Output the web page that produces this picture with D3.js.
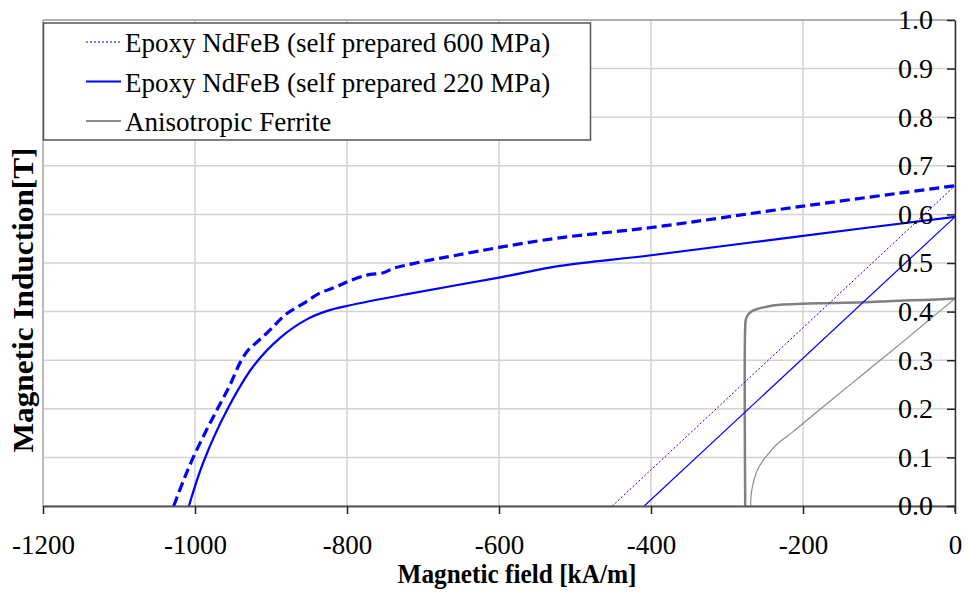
<!DOCTYPE html>
<html>
<head>
<meta charset="utf-8">
<script src="https://cdn.jsdelivr.net/npm/d3@7"></script>
<style>
  body { margin: 0; background: #fff; }
  svg { display: block; font-family: "Liberation Serif", "Times New Roman", serif; }
</style>
</head>
<body>
<div id="chart"></div>
<script>
// field H [kA/m] / induction [T]
var xTicks = [-1200, -1000, -800, -600, -400, -200, 0];
var yTicks = [0, 0.1, 0.2, 0.3, 0.4, 0.5, 0.6, 0.7, 0.8, 0.9, 1.0];

// 600 MPa knee curve (thick dashed)
var h600J = [-1028, -1015, -1002, -985, -969, -954, -941, -930, -923, -906, -879, -857, -836, -814, -800, -774, -752, -739, -721, -691, -656, -600, -524, -400, -200, 0];
var b600J = [0, 0.053, 0.101, 0.156, 0.204, 0.249, 0.294, 0.321, 0.331, 0.355, 0.396, 0.417, 0.438, 0.451, 0.461, 0.475, 0.480, 0.489, 0.496, 0.506, 0.516, 0.532, 0.551, 0.573, 0.617, 0.659];
// 600 MPa straight line (thin dotted)
var h600B = [-451, 0];
var b600B = [0, 0.659];

// 220 MPa knee curve (thick solid)
var h220J = [-1008, -989, -957, -923, -888, -853, -827, -799, -721, -600, -520, -400, -200, 0];
var b220J = [0, 0.090, 0.200, 0.288, 0.346, 0.384, 0.401, 0.412, 0.436, 0.470, 0.494, 0.516, 0.556, 0.595];
// 220 MPa straight line (thin solid)
var h220B = [-409, 0];
var b220B = [0, 0.595];

// anisotropic ferrite
var hFerJ = [-276, -276, -275, -271, -266, -248, -230, -200, -178, -120, -81, -40, 0];
var bFerJ = [0, 0.370, 0.385, 0.396, 0.402, 0.410, 0.414, 0.416, 0.417, 0.419, 0.422, 0.424, 0.427];
var hFerB = [-269, -268, -265, -260, -252, -243, -235, -213, -169, -125, -81, -37, 0];
var bFerB = [0, 0.026, 0.050, 0.074, 0.095, 0.112, 0.126, 0.153, 0.210, 0.266, 0.322, 0.379, 0.427];

var legendNames = ["Epoxy NdFeB (self prepared 600 MPa)", "Epoxy NdFeB (self prepared 220 MPa)", "Anisotropic Ferrite"];

var W = 968, H = 592;
var mL = 43, mR = 955, mT = 20, mB = 506;

var svg = d3.select("#chart").append("svg")
    .attr("width", W)
    .attr("height", H);

var x = d3.scaleLinear().domain([-1200, 0]).range([mL, mR]);
var y = d3.scaleLinear().domain([0, 1]).range([mB, mT]);

// grid
svg.append("g").selectAll("line").data(xTicks).enter().append("line")
    .attr("x1", function(d) { return x(d); })
    .attr("x2", function(d) { return x(d); })
    .attr("y1", mT).attr("y2", mB)
    .attr("stroke", "#d2d2d2").attr("stroke-width", 1.5);
svg.append("g").selectAll("line").data(yTicks).enter().append("line")
    .attr("x1", mL).attr("x2", mR)
    .attr("y1", function(d) { return y(d); })
    .attr("y2", function(d) { return y(d); })
    .attr("stroke", "#d2d2d2").attr("stroke-width", 1.5);

// plot border
svg.append("line").attr("x1", mL).attr("x2", mR).attr("y1", mT).attr("y2", mT)
    .attr("stroke", "#a0a0a0").attr("stroke-width", 1.5);
svg.append("line").attr("x1", mL).attr("x2", mL).attr("y1", mT).attr("y2", mB)
    .attr("stroke", "#b0b0b0").attr("stroke-width", 1.5);

function pts(hs, bs) {
    return hs.map(function(h, i) { return [h, bs[i]]; });
}

var curve = d3.line()
    .x(function(d) { return x(d[0]); })
    .y(function(d) { return y(d[1]); })
    .curve(d3.curveCatmullRom.alpha(0.5));
var straight = d3.line()
    .x(function(d) { return x(d[0]); })
    .y(function(d) { return y(d[1]); });

var series = [
    { d: pts(hFerB, bFerB), gen: curve, color: "#8c8c8c", w: 1.2, dash: null },
    { d: pts(hFerJ, bFerJ), gen: curve, color: "#808080", w: 2.5, dash: null },
    { d: pts(h600B, b600B), gen: straight, color: "#0000ff", w: 1, dash: "2,2" },
    { d: pts(h220B, b220B), gen: straight, color: "#0000ff", w: 1.2, dash: null },
    { d: pts(h600J, b600J), gen: curve, color: "#0000ff", w: 3.2, dash: "10,5" },
    { d: pts(h220J, b220J), gen: curve, color: "#0000ff", w: 2.2, dash: null }
];

svg.append("g").selectAll("path").data(series).enter().append("path")
    .attr("d", function(s) { return s.gen(s.d); })
    .attr("fill", "none")
    .attr("stroke", function(s) { return s.color; })
    .attr("stroke-width", function(s) { return s.w; })
    .attr("stroke-dasharray", function(s) { return s.dash; });

// x axis
var xAxis = svg.append("g")
    .attr("transform", "translate(0," + mB + ")")
    .call(d3.axisBottom(x).tickValues(xTicks).tickSize(8).tickSizeOuter(0).tickPadding(21).tickFormat(d3.format("d")));
xAxis.select(".domain").attr("stroke", "#555").attr("stroke-width", 2);
xAxis.selectAll(".tick line").attr("stroke", "#222").attr("stroke-width", 1.5);
xAxis.selectAll(".tick text")
    .attr("font-family", "Liberation Serif").attr("font-size", 27).attr("fill", "#000")
    .text(function(d) { return d === 0 ? "0" : String(d).replace("\u2212", "-"); });

// y axis on the right, ticks inward
var yAxis = svg.append("g")
    .attr("transform", "translate(" + mR + ",0)")
    .call(d3.axisLeft(y).tickValues(yTicks).tickSize(8).tickSizeOuter(0).tickPadding(14).tickFormat(d3.format(".1f")));
yAxis.select(".domain").attr("stroke", "#333").attr("stroke-width", 1.5);
yAxis.selectAll(".tick line").attr("stroke", "#222").attr("stroke-width", 1.5);
yAxis.selectAll(".tick text")
    .attr("font-family", "Liberation Serif").attr("font-size", 28).attr("fill", "#000");
svg.append("line").attr("x1", mR).attr("x2", mR).attr("y1", mB).attr("y2", mB + 6)
    .attr("stroke", "#333").attr("stroke-width", 1.5);

// titles
svg.append("text")
    .attr("x", 517).attr("y", 583)
    .attr("text-anchor", "middle")
    .attr("font-weight", "bold").attr("font-size", 27)
    .attr("textLength", 239).attr("lengthAdjust", "spacingAndGlyphs")
    .text("Magnetic field [kA/m]");
svg.append("text")
    .attr("transform", "translate(33,300) rotate(-90)")
    .attr("text-anchor", "middle")
    .attr("font-weight", "bold").attr("font-size", 29)
    .attr("textLength", 305).attr("lengthAdjust", "spacingAndGlyphs")
    .text("Magnetic Induction[T]");

// legend
var lg = svg.append("g");
lg.append("rect")
    .attr("x", 43.5).attr("y", 23).attr("width", 547).attr("height", 117)
    .attr("fill", "#fff").attr("stroke", "#555").attr("stroke-width", 1.5);
var legendStyle = [
    { color: "#0000ff", w: 1, dash: "2,2" },
    { color: "#0000ff", w: 2.2, dash: null },
    { color: "#8c8c8c", w: 2, dash: null }
];
var rows = lg.selectAll("g.row").data(legendNames).enter().append("g")
    .attr("class", "row")
    .attr("transform", function(d, i) { return "translate(0," + (42 + i * 39.5) + ")"; });
rows.append("line")
    .attr("x1", 86).attr("x2", 121).attr("y1", 0).attr("y2", 0)
    .attr("stroke", function(d, i) { return legendStyle[i].color; })
    .attr("stroke-width", function(d, i) { return legendStyle[i].w; })
    .attr("stroke-dasharray", function(d, i) { return legendStyle[i].dash; });
rows.append("text")
    .attr("x", 125).attr("y", 10)
    .attr("font-size", 27)
    .text(function(d) { return d; });
</script>
</body>
</html>
